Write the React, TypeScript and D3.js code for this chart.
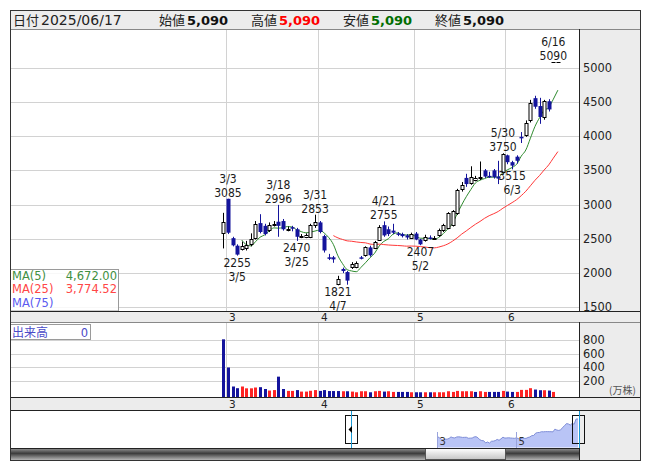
import React from "react";
import * as d3 from "d3";

// ---------- data ----------
const dates = [
  "2/28", "3/3", "3/4", "3/5", "3/6", "3/7", "3/10", "3/11", "3/12", "3/13",
  "3/14", "3/17", "3/18", "3/19", "3/21", "3/24", "3/25", "3/26", "3/27", "3/28",
  "3/31", "4/1", "4/2", "4/3", "4/4", "4/7", "4/8", "4/9", "4/10", "4/11",
  "4/14", "4/15", "4/16", "4/17", "4/18", "4/21", "4/22", "4/23", "4/24", "4/25",
  "4/28", "4/30", "5/1", "5/2", "5/7", "5/8", "5/9", "5/12", "5/13", "5/14",
  "5/15", "5/16", "5/19", "5/20", "5/21", "5/22", "5/23", "5/26", "5/27", "5/28",
  "5/29", "5/30", "6/2", "6/3", "6/4", "6/5", "6/6", "6/9", "6/10", "6/11",
  "6/12", "6/13", "6/16", "6/17",
];
const opens = [
  2590, 3085, 2510, 2400, 2360, 2370, 2430, 2510, 2730, 2690,
  2620, 2700, 2750, 2760, 2640, 2670, 2640, 2530, 2530, 2530,
  2700, 2740, 2540, 2230, 2230, 1833, 2060, 2015, 2083, 2090,
  2230, 2260, 2375, 2370, 2480, 2700, 2640, 2620, 2580, 2570,
  2550, 2518, 2577, 2490, 2480, 2520, 2500, 2550, 2620, 2660,
  2700, 2870, 3230, 3390, 3310, 3360, 3390, 3500, 3420, 3500,
  3410, 3480, 3720, 3620, 3700, 3990, 4010, 4230, 4555, 4440,
  4270, 4510, 5090, 5090,
];
const highs = [
  2880, 3085, 2530, 2420, 2460, 2470, 2580, 2760, 2860, 2720,
  2740, 2760, 2996, 2790, 2680, 2690, 2660, 2570, 2580, 2720,
  2853, 2760, 2560, 2280, 2250, 1960, 2080, 2030, 2160, 2170,
  2250, 2390, 2400, 2470, 2700, 2755, 2680, 2720, 2600, 2590,
  2570, 2590, 2600, 2500, 2560, 2550, 2540, 2650, 2720, 2890,
  2920, 3230, 3330, 3450, 3560, 3420, 3630, 3520, 3480, 3520,
  3640, 3750, 3730, 3640, 3720, 4060, 4230, 4530, 4590, 4560,
  4530, 4540, 5090, 5090,
];
const lows = [
  2360, 2570, 2390, 2255, 2330, 2330, 2390, 2490, 2580, 2550,
  2600, 2680, 2530, 2620, 2610, 2610, 2470, 2510, 2510, 2510,
  2660, 2580, 2300, 2190, 2150, 1821, 2000, 1830, 2060, 2070,
  2200, 2240, 2240, 2350, 2470, 2530, 2540, 2570, 2540, 2520,
  2490, 2500, 2480, 2407, 2460, 2490, 2490, 2530, 2600, 2640,
  2680, 2850, 3190, 3260, 3290, 3340, 3360, 3390, 3390, 3380,
  3300, 3460, 3590, 3515, 3600, 3900, 3990, 4200, 4400, 4180,
  4240, 4360, 5090, 5090,
];
const closes = [
  2750, 2590, 2405, 2270, 2400, 2410, 2500, 2710, 2600, 2570,
  2700, 2720, 2690, 2640, 2650, 2660, 2530, 2545, 2555, 2700,
  2740, 2600, 2330, 2220, 2200, 1907, 2030, 1890, 2127, 2145,
  2215, 2375, 2260, 2455, 2670, 2550, 2570, 2590, 2560, 2540,
  2520, 2577, 2490, 2420, 2530, 2510, 2515, 2630, 2700, 2878,
  2900, 3208, 3290, 3300, 3400, 3382, 3410, 3410, 3405, 3400,
  3380, 3740, 3620, 3570, 3640, 3970, 4190, 4480, 4430, 4280,
  4510, 4390, 5090, 5090,
];
// volume in 万株
const volumes = [
  810, 395, 115, 90, 115, 88, 88, 100, 105, 78,
  55, 62, 260, 78, 50, 50, 62, 40, 40, 52,
  62, 50, 62, 48, 48, 48, 45, 45, 40, 30,
  45, 45, 30, 45, 50, 40, 45, 35, 35, 35,
  35, 30, 30, 30, 30, 30, 30, 30, 30, 45,
  35, 50, 45, 45, 45, 35, 45, 35, 35, 35,
  35, 50, 40, 35, 35, 65, 65, 90, 70, 60,
  60, 55, 35, 0,
];

const priceTicks = [1500, 2000, 2500, 3000, 3500, 4000, 4500, 5000];
const volumeTicks = [200, 400, 600, 800];
const monthLabels = ["3", "4", "5", "6"];
const monthStarts = ["3/3", "4/1", "5/1", "6/2"];
const navMonthLabels = ["3", "5"];
const navMonthStarts = ["3/3", "5/1"];
const highMarks = ["3/3", "3/18", "3/31", "4/21", "5/30", "6/16"];
const lowMarks = ["3/5", "3/25", "4/7", "5/2", "6/3"];
const headerDate = "2025/06/17";
const maPeriods = [5, 25, 75];

// ---------- style ----------
const NAVY = "#14149c";
const UPRED = "#ff2424";
const GRID = "#d2d2d2";
const PANEL = "#ececec";
const NUM = "'DejaVu Sans', Verdana, sans-serif";
const NUMC = "'DejaVu Sans Condensed', 'Liberation Sans', Arial, sans-serif";
const JP = "'Noto Sans CJK JP', 'Noto Sans', sans-serif";
const maColors = ["#2e8b2e", "#ff3838", "#5050f0"];
const maTextColors = ["#3f8f3f", "#ff4646", "#5a5af0"];

// layout
const L = 10, R = 640, PR = 579;
const TOP = 10, HB = 29, PB = 311, VT = 322, VB = 397, NT = 410, NB = 448, BOT = 460;

export default function App() {
  const n = dates.length;
  const x = d3.scaleLinear().domain([0, n - 1]).range([223.4, 557.9]);
  const y = d3.scaleLinear().domain([1500, 5000]).range([307.3, 67.7]);
  const yv = d3.scaleLinear().domain([0, 800]).range([394.3, 340]);
  const nx = d3.scaleLinear().domain([0, n - 1]).range([437.5, 578]);
  const ny = d3.scaleLinear().domain([1500, 5090]).range([446, 419]);

  const ma = (p: number) =>
    closes.map((_, i) => (i < p - 1 ? null : (d3.mean(closes.slice(i - p + 1, i + 1)) as number)));
  const maSeries = maPeriods.map((p) => ma(p));
  const line = d3
    .line<number | null>()
    .defined((d) => d != null)
    .x((_, i) => x(i))
    .y((d) => y(d as number))
    .curve(d3.curveMonotoneX);

  const navArea = d3
    .area<number>()
    .x((_, i) => nx(i))
    .y0(NB - 0.5)
    .y1((d) => ny(d));
  const navLine = d3
    .line<number>()
    .x((_, i) => nx(i))
    .y((d) => ny(d));

  const fmt = d3.format(",");
  const fmt2 = d3.format(",.2f");
  const last = n - 1;
  const monthX = monthStarts.map((d) => Math.round(x(dates.indexOf(d))) - 1.5);

  const header = [
    { label: "始値", value: opens[last], color: "#111", lx: 159, vx: 187 },
    { label: "高値", value: highs[last], color: "#ff0000", lx: 251, vx: 279 },
    { label: "安値", value: lows[last], color: "#006d00", lx: 343, vx: 371 },
    { label: "終値", value: closes[last], color: "#111", lx: 435, vx: 463 },
  ];

  return (
    <div style={{ position: "absolute", left: 0, top: 0 }}>
      <svg width={653} height={470} style={{ display: "block" }}>
        <defs>
          <linearGradient id="track" x1="0" y1="0" x2="0" y2="1">
            <stop offset="0" stopColor="#9a9a9a" />
            <stop offset="0.45" stopColor="#3c3c3c" />
            <stop offset="1" stopColor="#b4b4b4" />
          </linearGradient>
          <linearGradient id="thumb" x1="0" y1="0" x2="0" y2="1">
            <stop offset="0" stopColor="#ffffff" />
            <stop offset="1" stopColor="#c4c4c4" />
          </linearGradient>
        </defs>
        <rect x={0} y={0} width={653} height={470} fill="#fff" />
        {/* panels */}
        <rect x={L} y={TOP} width={R - L} height={HB - TOP} fill={PANEL} />
        <rect x={PR} y={HB} width={R - PR} height={BOT - HB} fill={PANEL} />
        <rect x={L} y={PB} width={R - L} height={VT - PB} fill={PANEL} />
        <rect x={L} y={VB} width={R - L} height={NT - VB} fill={PANEL} />

        {/* price grid */}
        {priceTicks.map((t) => (
          <line key={"pg" + t} x1={L} x2={PR} y1={Math.round(y(t)) + 0.5} y2={Math.round(y(t)) + 0.5} stroke={GRID} />
        ))}
        {monthX.map((mx, k) => (
          <g key={"mg" + k}>
            <line x1={mx} x2={mx} y1={HB} y2={PB} stroke={GRID} />
            <line x1={mx} x2={mx} y1={VT} y2={VB} stroke={GRID} />
          </g>
        ))}
        {volumeTicks.map((t) => (
          <line key={"vg" + t} x1={L} x2={PR} y1={Math.round(yv(t)) + 0.5} y2={Math.round(yv(t)) + 0.5} stroke={GRID} />
        ))}

        {/* MA lines */}
        {maSeries.map((s, k) =>
          s.some((v) => v != null) ? (
            <path key={"ma" + k} d={line(s) || ""} fill="none" stroke={maColors[k]} strokeWidth={1} />
          ) : null
        )}

        {/* candles */}
        {dates.map((d, i) => {
          const o = opens[i], c = closes[i], h = highs[i], l = lows[i];
          const up = c >= o;
          const cx = Math.round(x(i)) + 0.5;
          const top = y(Math.max(o, c));
          const bot = y(Math.min(o, c));
          const col = up ? "#000" : NAVY;
          if (h === l) {
            return <line key={"c" + i} x1={cx - 2} x2={cx + 2} y1={Math.round(top) + 0.5} y2={Math.round(top) + 0.5} stroke="#000" />;
          }
          return (
            <g key={"c" + i}>
              <line x1={cx} x2={cx} y1={y(h)} y2={y(l)} stroke={col} />
              {up ? (
                <rect x={cx - 1.5} y={Math.round(top) + 0.5} width={3} height={Math.max(Math.round(bot - top), 1)} fill="#fff" stroke="#000" />
              ) : (
                <rect x={cx - 2} y={top} width={4} height={Math.max(bot - top, 1.5)} fill={NAVY} />
              )}
            </g>
          );
        })}

        {/* high / low annotations */}
        {highMarks.map((d) => {
          const i = dates.indexOf(d);
          const cx = x(i);
          const yy = y(highs[i]);
          return (
            <g key={"hm" + d} fontFamily={NUMC} fontSize={12} fill="#1a1a1a" textAnchor="middle">
              <text x={cx} y={yy - 16}>{d}</text>
              <text x={cx} y={yy - 2}>{highs[i]}</text>
            </g>
          );
        })}
        {lowMarks.map((d) => {
          const i = dates.indexOf(d);
          const cx = x(i);
          const yy = y(lows[i]);
          return (
            <g key={"lm" + d} fontFamily={NUMC} fontSize={12} fill="#1a1a1a" textAnchor="middle">
              <text x={cx} y={yy + 11}>{lows[i]}</text>
              <text x={cx} y={yy + 25}>{d}</text>
            </g>
          );
        })}

        {/* MA legend */}
        <rect x={L + 0.5} y={269.5} width={108} height={PB - 269.5} fill="#fff" fillOpacity={0.85} stroke="#9a9a9a" />
        {maPeriods.map((p, k) => {
          const s = maSeries[k];
          const v = s[last];
          const by = 279.5 + k * 13.5;
          return (
            <g key={"lg" + p} fontFamily={NUM} fontSize={11.5} fill={maTextColors[k]}>
              <text x={12} y={by}>{`MA(${p})`}</text>
              {v != null ? (
                <text x={117} y={by} textAnchor="end">{fmt2(v)}</text>
              ) : null}
            </g>
          );
        })}

        {/* volume bars */}
        {volumes.map((v, i) => {
          if (v <= 0) return null;
          const cx = Math.round(x(i)) + 0.5;
          const upv = i > 0 && closes[i] >= closes[i - 1];
          const yt = yv(v);
          return <rect key={"v" + i} x={cx - 1.5} y={yt} width={3} height={VB - yt} fill={upv ? UPRED : NAVY} />;
        })}
        <rect x={L + 0.5} y={324.5} width={80} height={15} fill="#fff" stroke="#9a9a9a" />
        <text x={12} y={336.5} fontFamily={JP} fontSize={12} fill="#4a4ac8">出来高</text>
        <text x={88} y={336.5} fontFamily={NUM} fontSize={11.5} fill="#4a4ac8" textAnchor="end">{fmt(volumes[last])}</text>

        {/* axes labels */}
        {priceTicks.map((t) => (
          <text key={"pt" + t} x={583} y={y(t)} dy="0.36em" fontFamily={NUM} fontSize={11.4} fill="#222">{t}</text>
        ))}
        {volumeTicks.map((t) => (
          <text key={"vt" + t} x={583} y={yv(t)} dy="0.36em" fontFamily={NUM} fontSize={11.4} fill="#222">{t}</text>
        ))}
        <text x={609} y={394} fontFamily={JP} fontSize={10} fill="#555">(万株)</text>
        {monthX.map((mx, k) => (
          <g key={"ml" + k} fontFamily={NUM} fontSize={10.5} fill="#222">
            <text x={mx + 2.5} y={320.5}>{monthLabels[k]}</text>
            <text x={mx + 2.5} y={407.5}>{monthLabels[k]}</text>
          </g>
        ))}

        {/* navigator */}
        <path d={navArea(closes) || ""} fill="#b9c4f6" />
        <path d={navLine(closes) || ""} fill="none" stroke="#7f8ed8" strokeWidth={1} />
        {navMonthStarts.map((d, k) => {
          const mx = Math.round(nx(dates.indexOf(d))) - 1.5;
          return (
            <g key={"nm" + d}>
              <line x1={mx} x2={mx} y1={432} y2={NB} stroke="#9aa4dc" />
              <text x={mx + 2} y={445} fontFamily={NUM} fontSize={10} fill="#333">{navMonthLabels[k]}</text>
            </g>
          );
        })}
        <rect x={345.5} y={415.5} width={12} height={28} fill="none" stroke="#111" />
        <line x1={351.5} x2={351.5} y1={NT} y2={NB} stroke="#1a9ad6" />
        <path d="M348.5,429.5 L352,426 L352,433 Z" fill="#000" />
        <rect x={572.5} y={415.5} width={12} height={28} fill="none" stroke="#111" />
        <line x1={579.5} x2={579.5} y1={NT} y2={NB} stroke="#1a9ad6" />

        {/* scrollbar */}
        <rect x={L} y={NB} width={PR - L} height={BOT - NB} fill="url(#track)" />
        <rect x={425.5} y={NB + 0.5} width={80} height={BOT - NB - 1} fill="url(#thumb)" stroke="#555" />

        {/* borders */}
        <line x1={L} x2={R} y1={HB + 0.5} y2={HB + 0.5} stroke="#888" />
        <line x1={L} x2={R} y1={PB + 0.5} y2={PB + 0.5} stroke="#222" />
        <line x1={L} x2={R} y1={VT + 0.5} y2={VT + 0.5} stroke="#888" />
        <line x1={L} x2={R} y1={VB + 0.5} y2={VB + 0.5} stroke="#222" />
        <line x1={L} x2={R} y1={NT + 0.5} y2={NT + 0.5} stroke="#222" />
        <line x1={L} x2={PR} y1={NB + 0.5} y2={NB + 0.5} stroke="#222" />
        <line x1={PR + 0.5} x2={PR + 0.5} y1={HB} y2={PB} stroke="#222" />
        <line x1={PR + 0.5} x2={PR + 0.5} y1={VT} y2={VB} stroke="#222" />
        <line x1={PR + 0.5} x2={PR + 0.5} y1={NB} y2={BOT} stroke="#222" />
        <rect x={L + 0.5} y={TOP + 0.5} width={R - L} height={BOT - TOP} fill="none" stroke="#333" />

        {/* header */}
        <text x={13} y={24.5} fontFamily={JP} fontSize={13} fill="#222">日付</text>
        <text x={41} y={24.5} fontFamily={NUM} fontSize={14} fill="#222">{headerDate}</text>
        {header.map((h) => (
          <g key={h.label}>
            <text x={h.lx} y={24.5} fontFamily={JP} fontSize={13} fill="#222">{h.label}</text>
            <text x={h.vx} y={24.5} fontFamily={NUM} fontSize={13} fontWeight="bold" fill={h.color}>{fmt(h.value)}</text>
          </g>
        ))}
      </svg>
    </div>
  );
}
